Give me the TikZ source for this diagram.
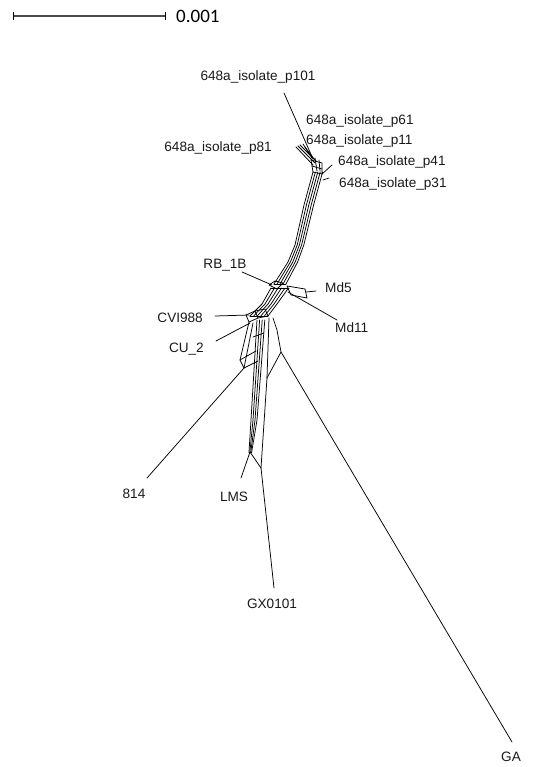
\documentclass[tikz,border=0pt]{standalone}
\usepackage{fontspec}
\setmainfont{Liberation Sans}
\newfontfamily\barfont{Carlito}
\begin{document}
\begin{tikzpicture}[x=1pt,y=-1pt,
  net/.style={line width=0.75pt, line join=round, line cap=round},
  lab/.style={font=\fontsize{13.6}{16}\selectfont, inner sep=0pt, text=black!90}]
\useasboundingbox (0,0) rectangle (532,767);

% scale bar
\coordinate (sbL) at (13,16);
\coordinate (sbR) at (165,16);
\draw[line width=2.2pt, black!70] (sbL) -- (sbR);
\draw[line width=0.8pt] ([yshift=-4pt]sbL) -- ([yshift=4pt]sbL);
\draw[line width=0.8pt] ([yshift=-4pt]sbR) -- ([yshift=4pt]sbR);
\node[anchor=west, inner sep=0pt, font=\barfont\fontsize{19}{20}\selectfont] (bar) at (176,16.5) {0.001};

% labels
\node[lab] (p101) at (258,77) {648a\_isolate\_p101};
\node[lab, anchor=west] (p61) at (306,121) {648a\_isolate\_p61};
\node[lab, anchor=west] (p11) at (306,141) {648a\_isolate\_p11};
\node[lab, anchor=east] (p81) at (272,148) {648a\_isolate\_p81};
\node[lab, anchor=west] (p41) at (338,162) {648a\_isolate\_p41};
\node[lab, anchor=west] (p31) at (339,184) {648a\_isolate\_p31};
\node[lab] (rb) at (225,265) {RB\_1B};
\node[lab, anchor=west] (md5) at (325,288) {Md5};
\node[lab, anchor=west] (md11) at (335,328) {Md11};
\node[lab, anchor=east] (cvi) at (203,318) {CVI988};
\node[lab, anchor=east] (cu2) at (204,349) {CU\_2};
\node[lab] (n814) at (134,494) {814};
\node[lab] (lms) at (234,497) {LMS};
\node[lab] (gx) at (272,604) {GX0101};
\node[lab] (ga) at (511,757) {GA};

% leaf ends and attachment points
\coordinate (t101) at (284,93);  \coordinate (a101) at (313,159);
\coordinate (t81) at (298,146);  \coordinate (a81) at (315,163);
\coordinate (t61) at (303,144);  \coordinate (a61) at (312,158);
\coordinate (t11) at (305,147);  \coordinate (a11) at (314,159);
\coordinate (t41) at (332,165);  \coordinate (a41) at (322,174);
\coordinate (t31) at (329,178);  \coordinate (a31) at (323,180);
\coordinate (trb) at (242,272);  \coordinate (arb) at (272,285);
\coordinate (tmd5) at (316,291); \coordinate (amd5) at (306,292);
\coordinate (tmd11) at (337,320); \coordinate (amd11) at (288,292);
\coordinate (tcvi) at (215,316); \coordinate (acvi) at (249,315);
\coordinate (tcu) at (216,341);  \coordinate (acu) at (250,323);
\coordinate (t814) at (147,478); \coordinate (a814) at (244,368);
\coordinate (tlms) at (241,478); \coordinate (alms) at (250,452);
\coordinate (tgx) at (274,588);  \coordinate (agx) at (261,468);
\coordinate (tga) at (512,742);  \coordinate (aga) at (281,352);
\coordinate (gxj) at (267,378);

% leaf edges
\draw[net] (t101) -- (a101);
\draw[net] (t81) -- (a81);
\draw[net] (t61) -- (a61);
\draw[net] (t11) -- (a11);
\draw[net] (t41) -- (a41);
\draw[net] (t31) -- (a31);
\draw[net] (trb) -- (arb);
\draw[net] (tmd5) -- (amd5);
\draw[net] (tmd11) -- (amd11);
\draw[net] (tcvi) -- (acvi);
\draw[net] (tcu) -- (acu);
\draw[net] (t814) -- (a814);
\draw[net] (tlms) -- (alms);
\draw[net] (tgx) -- (agx);
\draw[net] (tga) -- (aga);

% top cluster
\draw[net] (296,147)--(313,165);
\draw[net] (300,145)--(316,161);
\draw[net] (311,160)--(313,172) (315,158)--(317,171) (319,160)--(320,171) (322,163)--(322,174);
\draw[net] (311,160)--(322,163) (312,166)--(322,169) (313,172)--(322,174);

% stem
\foreach \d in {0,...,4}
  \draw[net] ({313+2.4*\d},172) -- ({304+2.4*\d},205) -- ({295+2.2*\d},245) -- ({288+2.4*\d},262) -- ({274+3*\d},284);

% central junction
\draw[net] (274,284)--(286,284);
\draw[net] (269,285)--(275,281)--(283,283)--(277,289)--cycle;
\draw[net] (287,286)--(305,289)--(307,298)--(291,295)--cycle;

% band below junction
\draw[net] (271,288)--(289,288);
\foreach \d in {0,...,5}
  \draw[net] ({271+3.5*\d},288) -- ({262+3*\d},304) -- ({250+3.6*\d},316);

% CVI988 / CU_2 cluster
\draw[net] (246,315)--(255,311)--(258,318)--(249,322)--cycle;
\draw[net] (255,311)--(265,309)--(268,316)--(258,318);
\draw[net] (250,316)--(268,316);

% lower bands
\draw[net] (249,322)--(240,360)--(a814);
\draw[net] (253,323)--(a814);
\draw[net] (240,360)--(256,351);
\draw[net] (a814)--(258,361);
\foreach \d in {0,...,3}
  \draw[net] ({257+2.6*\d},320) -- ({251+2*\d},420) -- ({249+0.9*\d},452);
\draw[net] (249,452)--(251.7,452);
\draw[net] (253,337)--(264,333);
\draw[net] (alms)--(agx);
\draw[net] (269,318)--(gxj);
\draw[net] (273,318)--(277,330)--(aga)--(gxj);
\draw[net] (gxj)--(agx);
\end{tikzpicture}
\end{document}
